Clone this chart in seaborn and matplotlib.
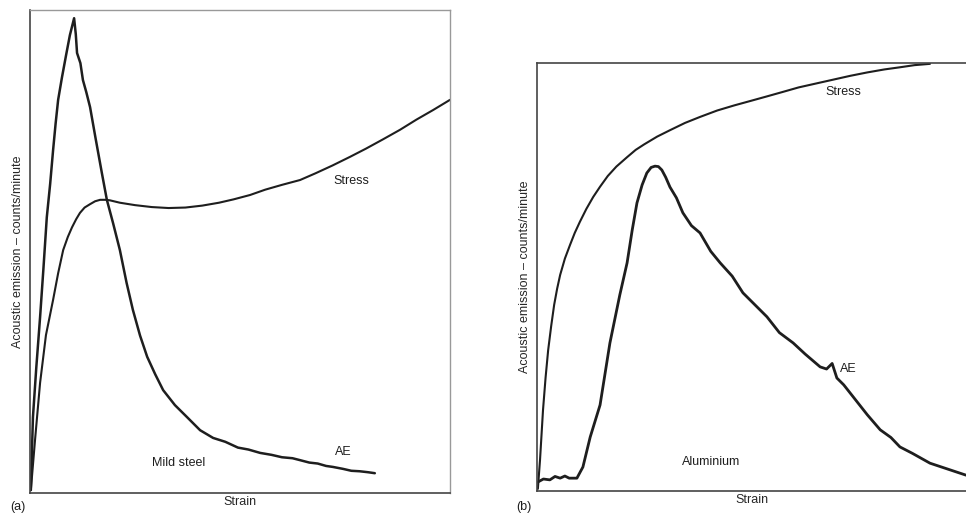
import matplotlib
matplotlib.use("Agg")
import matplotlib.pyplot as plt
import seaborn as sns
import pandas as pd

# ---- Data (normalised: strain 0-100, response 0-100) ----
steel_ae_strain = [0.2, 0.7, 1.5, 2.4, 3.2, 4.0, 4.8, 5.5, 6.1, 6.7, 7.6, 8.6, 9.5, 10.5,
                   10.9, 11.2, 12.0, 12.6, 13.4, 14.3, 15.6, 17.1, 18.3, 19.8, 21.4, 23.0,
                   24.5, 26.2, 27.9, 29.8, 31.7, 34.5, 37.4, 40.5, 43.6, 46.5, 49.5, 52.0,
                   54.8, 57.5, 60.0, 62.5, 64.3, 66.5, 68.5, 70.5, 72.1, 74.5, 76.5, 78.5,
                   80.5, 82.1]
steel_ae_value = [0.6, 15.7, 26.0, 36.4, 46.5, 57.1, 64.0, 71.0, 76.5, 81.4, 86.0, 90.7, 94.8, 98.3,
                  95.0, 91.1, 89.0, 85.5, 83.0, 79.9, 73.5, 66.3, 60.7, 55.8, 50.3, 43.5,
                  37.9, 32.6, 28.2, 24.6, 21.3, 18.2, 15.7, 13.0, 11.4, 10.6, 9.4, 9.0,
                  8.3, 7.9, 7.4, 7.2, 6.8, 6.3, 6.1, 5.6, 5.4, 5.0, 4.6, 4.5,
                  4.3, 4.1]

steel_stress_strain = [0.2, 1.2, 2.4, 3.8, 5.5, 6.7, 7.9, 9.0, 10.0, 11.0, 11.9, 13.0, 14.3,
                       15.5, 16.7, 18.0, 19.0, 21.4, 25.0, 29.0, 33.0, 37.0, 41.0, 45.0,
                       48.5, 52.4, 56.0, 60.0, 64.3, 68.0, 72.0, 76.2, 80.0, 84.0, 88.1,
                       92.0, 96.0, 100.0]
steel_stress_value = [0.6, 11.0, 22.8, 32.7, 40.0, 45.5, 50.3, 53.0, 55.0, 56.7, 58.0, 59.1, 59.8,
                      60.4, 60.7, 60.7, 60.6, 60.1, 59.6, 59.2, 59.0, 59.1, 59.5, 60.1,
                      60.8, 61.7, 62.8, 63.8, 64.8, 66.2, 67.8, 69.6, 71.3, 73.2, 75.2,
                      77.3, 79.3, 81.4]

al_ae_strain = [0.2, 1.5, 3.0, 4.2, 5.4, 6.5, 7.5, 9.3, 10.7, 12.4, 14.7, 17.0, 19.3, 21.0,
                22.2, 23.3, 24.5, 25.6, 26.6, 27.5, 28.3, 29.1, 30.0, 31.0, 32.5, 34.0,
                36.0, 38.0, 40.5, 42.7, 45.5, 48.0, 50.5, 53.6, 56.5, 59.7, 62.5, 66.0,
                67.5, 68.8, 69.9, 71.5, 73.7, 77.0, 80.0, 82.5, 84.6, 87.5, 91.6, 95.5,
                100.0]
al_ae_value = [2.1, 2.8, 2.6, 3.4, 3.0, 3.5, 3.0, 3.0, 5.6, 12.6, 20.1, 34.6, 45.8, 53.3,
               61.0, 67.3, 71.5, 74.3, 75.6, 75.9, 75.8, 75.0, 73.3, 71.0, 68.5, 65.0,
               62.0, 60.3, 56.0, 53.3, 50.2, 46.3, 43.8, 40.7, 37.0, 34.6, 32.0, 29.0,
               28.5, 29.8, 26.4, 24.8, 22.0, 17.8, 14.3, 12.5, 10.3, 8.8, 6.5, 5.2,
               3.7]

al_stress_strain = [0.2, 0.7, 1.4, 2.0, 2.6, 3.3, 4.0, 4.7, 5.4, 6.5, 7.7, 8.8, 10.0, 11.5,
                    13.1, 14.7, 16.5, 18.5, 21.0, 23.0, 25.0, 28.0, 31.0, 34.5, 38.0, 42.0,
                    46.0, 50.0, 53.6, 57.5, 61.0, 65.0, 69.0, 73.0, 77.0, 81.0, 84.6, 88.0,
                    91.6]
al_stress_value = [0.5, 7.2, 18.9, 26.5, 32.9, 38.5, 43.5, 47.3, 50.5, 54.3, 57.5, 60.3, 62.9,
                   65.9, 68.7, 71.1, 73.6, 75.8, 78.0, 79.7, 81.0, 82.8, 84.3, 86.0, 87.4,
                   88.9, 90.1, 91.2, 92.2, 93.3, 94.3, 95.2, 96.1, 97.0, 97.8, 98.5, 99.0,
                   99.5, 99.8]

ylabel_text = "Acoustic emission \u2013 counts/minute"

sns.set_style("white")
plt.rcParams["font.family"] = ["Liberation Sans", "DejaVu Sans"]

fig = plt.figure(figsize=(9.66, 5.13), dpi=100)
ax1 = fig.add_axes([30 / 966, 20 / 513, 420 / 966, 483 / 513])
ax2 = fig.add_axes([537 / 966, 22 / 513, 429 / 966, 428 / 513])

line_kw = dict(color="#1e1e1e", linewidth=1.8, sort=False, estimator=None)

df = pd.DataFrame({"x": steel_ae_strain, "y": steel_ae_value})
sns.lineplot(data=df, x="x", y="y", ax=ax1, **line_kw)
df = pd.DataFrame({"x": steel_stress_strain, "y": steel_stress_value})
sns.lineplot(data=df, x="x", y="y", ax=ax1, **{**line_kw, "linewidth": 1.5})

df = pd.DataFrame({"x": al_ae_strain, "y": al_ae_value})
sns.lineplot(data=df, x="x", y="y", ax=ax2, **{**line_kw, "linewidth": 2.0})
df = pd.DataFrame({"x": al_stress_strain, "y": al_stress_value})
sns.lineplot(data=df, x="x", y="y", ax=ax2, **{**line_kw, "linewidth": 1.5})

for ax in (ax1, ax2):
    ax.set_xlim(0, 100)
    ax.set_ylim(0, 100)
    ax.set_xticks([])
    ax.set_yticks([])
    ax.set_xlabel("Strain", fontsize=9, labelpad=2)
    ax.set_ylabel(ylabel_text, fontsize=9, labelpad=4)

# spines
for s in ("left", "bottom"):
    ax1.spines[s].set_color("#444444")
    ax1.spines[s].set_linewidth(1.2)
for s in ("top", "right"):
    ax1.spines[s].set_color("#999999")
    ax1.spines[s].set_linewidth(1.0)
ax2.spines["right"].set_visible(False)
for s in ("left", "bottom", "top"):
    ax2.spines[s].set_color("#444444")
    ax2.spines[s].set_linewidth(1.2)

txt = dict(fontsize=9, color="#1e1e1e")
ax1.text(76.5, 64.5, "Stress", ha="center", va="center", **txt)
ax1.text(74.5, 8.4, "AE", ha="center", va="center", **txt)
ax1.text(35.5, 6.2, "Mild steel", ha="center", va="center", **txt)

ax2.text(71.5, 93.2, "Stress", ha="center", va="center", **txt)
ax2.text(72.5, 28.5, "AE", ha="center", va="center", **txt)
ax2.text(40.5, 6.8, "Aluminium", ha="center", va="center", **txt)

fig.text(18 / 966, 1 - 507 / 513, "(a)", ha="center", va="center", **txt)
fig.text(524 / 966, 1 - 507 / 513, "(b)", ha="center", va="center", **txt)

fig.savefig("out.png", dpi=100, facecolor="white")
